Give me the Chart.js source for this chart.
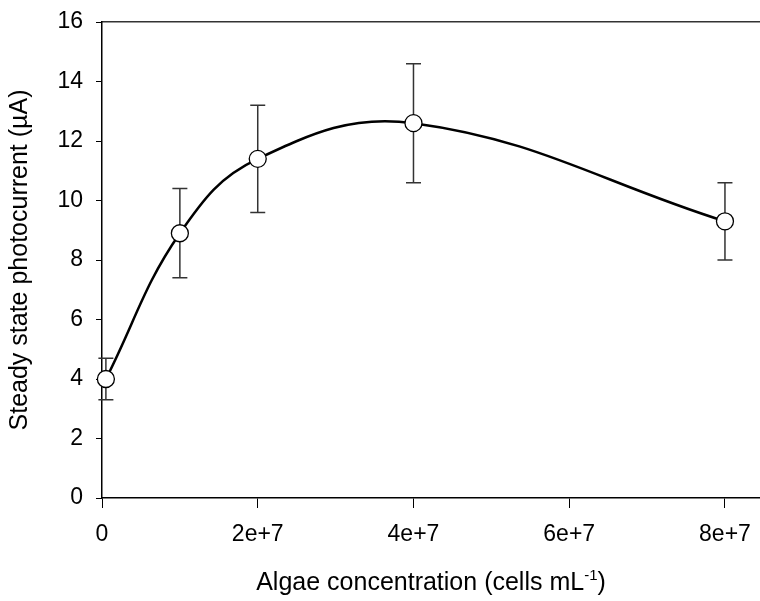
<!DOCTYPE html>
<html>
<head>
<meta charset="utf-8">
<script src="https://cdn.jsdelivr.net/npm/chart.js@4.4.1/dist/chart.umd.min.js"></script>
<style>
  html, body { margin: 0; padding: 0; background: #fff; overflow: hidden; }
  #wrap { width: 760px; height: 601px; }
</style>
</head>
<body>
<div id="wrap"><canvas id="grafico"></canvas></div>
<script>
// dados
const concentration = [5e5, 1e7, 2e7, 4e7, 8e7]; // cells mL-1
const photocurrent = [4.0, 8.9, 11.4, 12.6, 9.3]; // µA
const errorBar = [0.7, 1.5, 1.8, 2.0, 1.3]; // ± µA
const yTicks = [0, 2, 4, 6, 8, 10, 12, 14, 16];
const xTicks = [0, 2e7, 4e7, 6e7, 8e7];

const fonte = "'Liberation Sans', Arial, sans-serif";

// barras de erro desenhadas antes dos pontos
const errorBarsPlugin = {
  id: "errorBars",
  beforeDatasetsDraw(chart) {
    const ctx = chart.ctx;
    const x = chart.scales.x;
    const y = chart.scales.y;
    ctx.save();
    ctx.strokeStyle = "#333";
    ctx.lineWidth = 1.5;
    concentration.forEach((c, i) => {
      const px = x.getPixelForValue(c);
      const top = y.getPixelForValue(photocurrent[i] + errorBar[i]);
      const bot = y.getPixelForValue(photocurrent[i] - errorBar[i]);
      ctx.beginPath();
      ctx.moveTo(px, top);
      ctx.lineTo(px, bot);
      ctx.moveTo(px - 7.5, top);
      ctx.lineTo(px + 7.5, top);
      ctx.moveTo(px - 7.5, bot);
      ctx.lineTo(px + 7.5, bot);
      ctx.stroke();
    });
    ctx.restore();
  },
};

// título do eixo x com sobrescrito
const xTitlePlugin = {
  id: "xTitle",
  afterDraw(chart) {
    const ctx = chart.ctx;
    const area = chart.chartArea;
    const main = "Algae concentration (cells mL";
    const sup = "-1";
    const end = ")";
    ctx.save();
    ctx.fillStyle = "#000";
    ctx.textBaseline = "alphabetic";
    ctx.font = "25px " + fonte;
    const w1 = ctx.measureText(main).width;
    const w3 = ctx.measureText(end).width;
    ctx.font = "15px " + fonte;
    const w2 = ctx.measureText(sup).width;
    const total = w1 + w2 + w3;
    const sx = (area.left + area.right) / 2 - total / 2;
    const base = 590;
    ctx.font = "25px " + fonte;
    ctx.fillText(main, sx, base);
    ctx.font = "15px " + fonte;
    ctx.fillText(sup, sx + w1, base - 10);
    ctx.font = "25px " + fonte;
    ctx.fillText(end, sx + w1 + w2, base);
    ctx.restore();
  },
};

const grafico = document.getElementById("grafico");
const ctx = grafico.getContext("2d");

const myChart = new Chart(ctx, {
  type: "line",
  data: {
    datasets: [
      {
        data: concentration.map((c, i) => ({ x: c, y: photocurrent[i] })),
        borderColor: "#000",
        borderWidth: 2.5,
        tension: 0.4,
        pointRadius: 8.5,
        pointBackgroundColor: "#fff",
        pointBorderColor: "#000",
        pointBorderWidth: 1.3,
        fill: false,
        clip: false,
      },
    ],
  },
  options: {
    responsive: true,
    maintainAspectRatio: false,
    animation: false,
    layout: { autoPadding: false, padding: { top: 22, right: 0, left: 0, bottom: 0 } },
    scales: {
      x: {
        type: "linear",
        min: 0,
        max: 8.45e7,
        afterFit: (scale) => {
          scale.height = 103;
          scale.paddingLeft = 0;
          scale.paddingRight = 0;
        },
        afterBuildTicks: (scale) => { scale.ticks = xTicks.map((v) => ({ value: v })); },
        grid: { drawOnChartArea: false, tickLength: 10, tickColor: "#000", tickWidth: 1 },
        border: { color: "#000", width: 1.5 },
        ticks: {
          color: "#000",
          padding: 13,
          maxRotation: 0,
          font: { family: fonte, size: 23 },
          callback: function (value) {
            if (value === 0) return "0";
            return value / 1e7 + "e+7";
          },
        },
      },
      x2: {
        type: "linear",
        position: "top",
        min: 0,
        max: 8.45e7,
        afterFit: (scale) => {
          scale.height = 0;
          scale.paddingLeft = 0;
          scale.paddingRight = 0;
        },
        grid: { display: false, drawTicks: false },
        border: { color: "#333", width: 1.5 },
        ticks: { display: false },
      },
      y: {
        min: 0,
        max: 16,
        afterFit: (scale) => {
          scale.width = 102;
          scale.paddingTop = 0;
          scale.paddingBottom = 0;
        },
        afterBuildTicks: (scale) => { scale.ticks = yTicks.map((v) => ({ value: v })); },
        grid: { drawOnChartArea: false, tickLength: 6, tickColor: "#000", tickWidth: 1 },
        border: { color: "#000", width: 1.5 },
        ticks: {
          color: "#000",
          padding: 13,
          font: { family: fonte, size: 23 },
        },
        title: {
          display: true,
          text: "Steady state photocurrent (µA)",
          color: "#000",
          font: { family: fonte, size: 25 },
          padding: { top: 5, bottom: 0 },
        },
      },
    },
    plugins: {
      legend: { display: false },
      tooltip: { enabled: false },
    },
  },
  plugins: [errorBarsPlugin, xTitlePlugin],
});
</script>
</body>
</html>
